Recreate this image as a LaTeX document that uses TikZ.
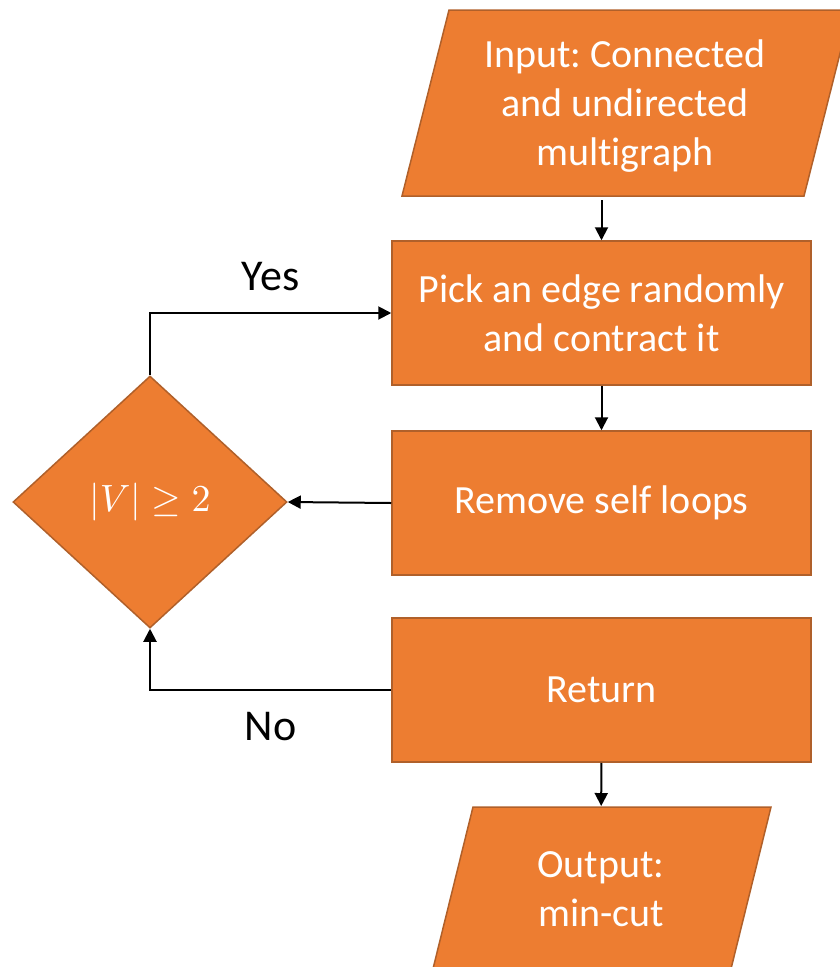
\documentclass[tikz,border=0pt]{standalone}
\usepackage{amssymb}
\usepackage{amsmath}
\usepackage{graphicx}
\usepackage{fontspec}
\setmainfont{Carlito}[Ligatures = NoCommon]
\frenchspacing
\usepackage{tikz}
\usetikzlibrary{shapes.geometric, arrows.meta}
\definecolor{boxfill}{HTML}{ED7D31}
\definecolor{boxline}{HTML}{B0602A}

\begin{document}
\begin{tikzpicture}[x = 1pt, y = -1pt, line width = 2pt, >={Triangle[length = 13pt, width = 13pt]},
	every node/.style = {font = \fontsize{40}{49}\selectfont},
	shape box/.style = {draw = boxline, fill = boxfill, line width = 1.5pt},
	proc/.style = {shape box, rectangle, minimum width = 419pt, minimum height = 144pt, text = white, align = center},
	io/.style = {text = white, align = center},
	answer/.style = {font = \fontsize{44}{52}\selectfont}]
	\useasboundingbox (0, 0) rectangle (840, 967);
	\clip (0, 0) rectangle (840, 967);
   	\filldraw[shape box] (449, 10) -- (851, 10) -- (804, 196) -- (402, 196) -- cycle;
	\node (In) at (625, 106) [io, minimum height = 186pt] {Input: Connected\\and undirected\\multigraph};
    	\node (Pick) at (601.5, 313) [proc] {Pick an edge randomly\\and contract it};
    	\node (Rem) at (601.5, 503) [proc] {Remove self loops};
	\node (Ret) at (601.5, 690) [proc] {Return};
	\node (Cond) at (150, 502) [shape box, diamond, minimum width = 274pt, minimum height = 252pt, inner sep = 0pt, text = white] {\scalebox{3.8}{\normalsize$|V| \geq 2$}};
   	\filldraw[shape box] (473, 807) -- (771, 807) -- (725, 993) -- (427, 993) -- cycle;
	\node (Out) at (601, 889) [io, minimum height = 164pt] {Output:\\min-cut};
	\draw[->] (Pick.north |- In.south) -- (Pick.north);
	\draw[->] (Pick) -- (Rem);
	\draw[->] (Rem.west) -- (Cond.east);
	\draw[->] (Ret.west) -| node[answer, pos = .25, below = 18pt] {No} (Cond.south);
	\draw[->] (Cond.north) |- node[answer, pos = .75, above = 18pt] {Yes} (Pick.west);
	\draw[->] (Ret) -- (Out);
    \end{tikzpicture}
\end{document}
